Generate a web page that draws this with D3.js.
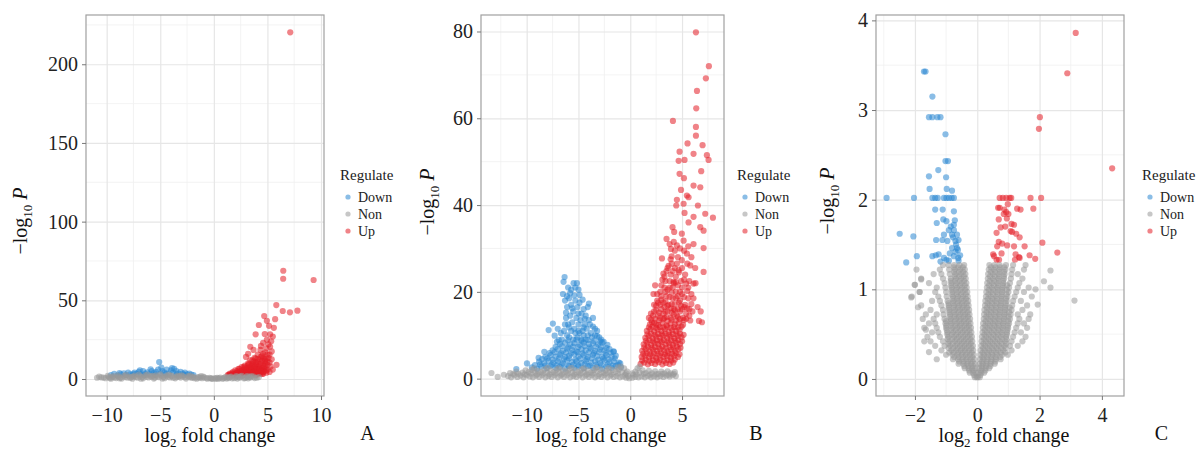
<!DOCTYPE html>
<html><head><meta charset="utf-8">
<script src="https://cdn.jsdelivr.net/npm/d3@7"></script>
<style>body{margin:0;background:#fff}svg{display:block}svg text{font-family:"Liberation Serif","Times New Roman",serif !important}</style>
</head><body><svg id="c" width="1198" height="450"></svg>
<script>
// ---------- Panel A ----------
const xTicksA=[-10,-5,0,5,10], xMinorA=[-7.5,-2.5,2.5,7.5];
const yTicksA=[0,50,100,150,200], yMinorA=[25,75,125,175,225];
const downA=[[-9.6,2.5],[-9.3,3.2],[-9.0,2.2],[-8.7,2.9],[-8.4,3.6],[-8.2,2.5],[-8.0,4.1],[-7.8,3.0],[-7.6,2.4],[-7.4,4.0],[-7.2,3.2],[-7.0,4.6],[-6.8,3.0],[-6.6,5.0],[-6.4,3.5],[-6.2,4.2],[-6.0,3.0],[-5.8,5.1],[-5.6,3.8],[-5.4,4.6],[-5.2,6.0],[-5.1,10.8],[-5.0,3.5],[-4.8,5.0],[-4.6,4.0],[-4.4,6.0],[-4.2,3.5],[-4.0,5.5],[-3.8,4.0],[-3.7,6.5],[-3.5,5.0],[-3.3,3.5],[-3.1,4.5],[-2.9,3.5],[-2.7,4.0],[-2.5,3.0],[-2.3,3.5],[-2.1,2.8],[-1.9,2.5],[-6.5,2.5],[-5.5,2.8],[-4.5,3.0],[-7.5,3.3],[-8.8,3.8],[-3.9,7.0],[-6.9,5.5],[-5.9,6.2],[-4.9,7.2],[-3.5,3.0],[-2.8,2.6]];
const nonA=[[-10.9,0.8],[-10.1,0.5],[-9.8,1.2],[-9.6,0.2],[-9.4,1.8],[-9.1,0.6],[-8.9,1.5],[-8.6,0.3],[-8.4,2.0],[-8.1,0.9],[-7.9,1.6],[-7.6,0.2],[-7.4,2.2],[-7.1,0.8],[-6.9,1.7],[-6.6,0.4],[-6.4,2.3],[-6.1,1.0],[-5.9,1.9],[-5.6,0.3],[-5.4,2.4],[-5.1,1.1],[-4.9,2.0],[-4.6,0.5],[-4.4,2.2],[-4.1,1.0],[-3.9,1.8],[-3.6,0.4],[-3.4,2.1],[-3.1,0.9],[-2.9,1.7],[-2.6,0.3],[-2.4,1.8],[-2.1,0.8],[-1.9,1.4],[-1.6,0.2],[-1.4,1.2],[-1.1,0.5],[-0.9,1.0],[-0.6,0.2],[-0.4,0.7],[-0.1,0.1],[0.1,0.5],[0.4,0.2],[0.6,0.9],[0.9,0.4],[1.1,1.3],[1.4,0.6],[1.6,1.6],[1.9,0.5],[2.1,1.8],[2.4,0.8],[2.6,2.0],[2.9,0.6],[3.1,1.8],[3.4,0.9],[3.7,1.5],[4.0,0.8],[-10.5,1.0],[-9.3,0.9],[-8.3,1.2],[-7.3,1.2],[-6.3,1.4],[-5.3,1.6],[-4.3,1.5],[-3.3,1.4],[-2.3,1.2],[-1.3,0.8],[-0.3,0.4],[0.3,0.8],[1.3,0.9],[2.3,1.3],[3.3,1.3],
[-10.7,1.5],[-10.3,0.9],[-9.9,2.0],[-9.5,1.2],[-9.0,2.4],[-8.7,0.9],[-8.2,2.6],[-7.8,0.7],[-7.5,1.6],[-7.0,2.8],[-6.7,1.2],[-6.2,2.8],[-5.8,1.3],[-5.5,0.9],[-5.0,2.9],[-4.7,1.4],[-4.2,2.8],[-3.8,0.8],[-3.5,1.2],[-3.0,2.4],[-2.7,1.1],[-2.2,2.2],[-1.8,0.5],[-1.5,1.0],[-1.0,1.6],[-0.7,0.6],[-0.2,0.3],[0.2,0.1],[0.5,0.4],[0.8,0.2],[1.0,0.8],[1.2,0.3],[1.5,1.2],[1.7,0.4],[2.0,1.0],[2.2,0.3],[2.5,1.5],[2.8,0.4],[3.0,1.0],[3.2,0.4],[3.5,1.8],[3.8,0.6],[4.2,1.2],[-9.7,0.6],[-8.8,0.4],[-7.7,1.4],[-6.8,0.2],[-5.7,2.0],[-4.8,0.3],[-4.0,2.2],[-3.2,1.9],[-2.0,1.0],[-1.2,1.8]];
const upA=[[7.13,220.3],[6.48,68.8],[6.47,63.7],[9.31,62.9],[5.83,47],[6.43,43.2],[7.1,42.4],[7.8,43.4],[4.7,40],[4.95,37],[5.72,38],[4.2,34.3],[5.15,33.8],[5.6,32.5],[3.9,28.4],[4.75,28.6],[5.25,28.4],[5.5,27],[4.95,25],[4.6,23],[3.4,20.5],[5.25,20.5],[3.7,18.5],[4.35,18.5],[5.4,17.5],[4.75,12.5],[5.4,12.5],[5.85,9],[5.1,22],[4.9,19.5],[5.35,24],[4.4,21],[3.2,16],[4.1,15.5],[4.5,14.5],[5.0,15.5],[3.8,13.5],[5.2,10.5],[3.0,14],
[1.3,2.5],[1.5,3.5],[1.6,2.2],[1.8,4.5],[1.9,3],[2.0,5.5],[2.1,2.4],[2.2,4],[2.3,6.5],[2.4,3.2],[2.5,5],[2.6,7.5],[2.6,2.5],[2.7,4.2],[2.8,6],[2.9,3.4],[2.9,8.5],[3.0,5.2],[3.0,2.6],[3.1,7],[3.2,4],[3.2,10],[3.3,5.8],[3.3,3],[3.4,8],[3.4,12],[3.5,4.5],[3.5,6.8],[3.6,2.8],[3.6,9.5],[3.7,5.5],[3.7,11],[3.8,3.8],[3.8,7.5],[3.9,6],[3.9,13],[4.0,4.5],[4.0,9],[4.1,3],[4.1,11],[4.2,6.5],[4.2,8],[4.3,4],[4.3,12.5],[4.4,5.5],[4.4,10],[4.5,7],[4.5,3.2],[4.6,9],[4.6,16],[4.7,5],[4.8,7.5],[4.8,11.5],[4.9,4],[5.0,9],[5.0,6],[5.1,13.5],[5.2,4.5],[5.3,8],[5.5,6],[2.0,3.6],[2.3,2.8],[2.5,3.8],[2.7,2.2],[2.8,4.8],[3.1,3.4],[3.3,4.5],[3.5,3.4],[3.6,5],[3.8,5],[3.9,2.6],[4.0,6.8],[4.2,5],[4.4,3.6],[4.6,4.5],[4.7,6.5],[3.0,6.2],[2.9,7.2],[3.4,6.5],[3.7,8.5],[3.2,8.8],[4.1,7.5],[4.3,9.5],[4.8,9.8],[1.7,3.8],[2.2,5],[1.4,2.8],[2.4,6.4],
[1.5,2.6],[1.7,3.0],[1.9,2.3],[2.1,3.4],[2.2,2.2],[2.4,4.6],[2.5,2.4],[2.6,3.4],[2.7,5.6],[2.8,2.8],[2.9,4.2],[3.0,3.6],[3.1,5.5],[3.2,2.4],[3.3,6.8],[3.4,4.2],[3.5,5.5],[3.6,3.8],[3.7,4.4],[3.8,6.4],[3.9,4.2],[4.0,3.4],[4.1,5.2],[4.2,3.8],[4.3,6.2],[4.4,4.6],[4.5,5.6],[4.6,3.4],[4.7,8.2],[4.9,5.4],[3.5,8.2],[3.9,9.8],[4.1,12.8],[4.5,11.4],[4.9,13],[3.3,9.6],[2.8,7.8],[3.6,11.8],[4.4,14.2],[4.8,17],[5.2,15.5],[5.0,11],[3.9,10.8],[4.6,13.3]];

// ---------- Panel B ----------
const xTicksB=[-10,-5,0,5], xMinorB=[-12.5,-7.5,-2.5,2.5,7.5];
const yTicksB=[0,20,40,60,80], yMinorB=[10,30,50,70];
const downB=[[-11,2.2],[-9.97,3.5],[-8.85,4.8],[-8.3,6.2],[-7.08,8.5],[-7.88,11.2],[-7.47,12.7],[-6.34,23.4],[-6.44,22.3],[-5.47,22],[-5.15,22],[-6.5,19.5],[-5.8,19.7],[-4.9,19.3],[-3.99,17.3],[-2.57,8.5],[-1.6,6.2],[-0.97,3.5],
[-6.3,18],[-6.1,16.5],[-5.9,18.5],[-5.7,17],[-5.5,15.5],[-5.3,18],[-5.1,16.5],[-4.9,17.5],[-4.7,15],[-4.5,16],[-4.3,14.5],[-4.1,16.5],[-6.2,14],[-6.0,12.5],[-5.8,14.5],[-5.6,13],[-5.4,11.5],[-5.2,14],[-5.0,12.5],[-4.8,13.5],[-4.6,11],[-4.4,12.5],[-4.2,11.5],[-4.0,13.5],[-3.8,10.5],[-3.6,12],[-3.4,10],[-3.2,11],[-6.4,11],[-6.1,10],[-5.9,9.5],[-5.7,11],[-5.5,9],[-5.3,10.5],[-5.1,9.5],[-4.9,10.5],[-4.7,9],[-4.5,10],[-4.3,9],[-4.1,10],[-3.0,9.5],[-2.8,9],[-3.6,14],[-5.7,20.5],[-5.3,21],[-6.0,21],
[-6.2,15.2],[-5.6,16.2],[-5.0,15],[-4.4,13.8],[-3.9,12.5],[-3.4,11.5],[-5.4,19.2],[-6.1,19],[-4.6,18.2],[-5.0,20.5],[-6.3,12.5],[-5.9,11.8],[-5.0,11],[-4.5,11.8],[-3.7,9.5],[-3.2,9.8],[-6.7,10.5],[-6.9,8.9],[-7.3,9.9],[-7.0,11.5],
[-9.5,2.6],[-9.0,2.3],[-8.6,2.8],[-8.1,2.4],[-7.7,2.9],[-7.2,2.5],[-6.8,2.7],[-6.3,2.3],[-5.9,2.9],[-5.4,2.5],[-5.0,2.8],[-4.5,2.4],[-4.1,2.9],[-3.6,2.5],[-3.2,2.7],[-2.7,2.3],[-2.3,2.8],[-1.8,2.5],[-1.4,2.9],[-0.9,2.6],
[-9.2,3.1],[-8.7,3.3],[-8.2,3.0],[-7.6,3.2],[-7.1,3.1],[-6.6,3.3],[-6.0,3.0],[-5.5,3.2],[-5.0,3.1],[-4.4,3.3],[-3.9,3.0],[-3.3,3.2],[-2.8,3.1],[-2.2,3.3],[-1.7,3.0],[-1.2,3.2],
[-8.8,3.9],[-8.3,3.6],[-7.9,4.1],[-7.4,3.7],[-7.0,4.0],[-6.5,3.6],[-6.1,4.2],[-5.6,3.8],[-5.2,4.0],[-4.7,3.6],[-4.3,4.1],[-3.8,3.7],[-3.4,4.0],[-2.9,3.6],[-2.5,4.2],[-2.0,3.8],[-1.6,4.0],[-1.1,3.7],
[-8.5,4.5],[-8.0,4.7],[-7.5,4.4],[-6.9,4.6],[-6.4,4.5],[-5.9,4.7],[-5.3,4.4],[-4.8,4.6],[-4.2,4.5],[-3.7,4.7],[-3.1,4.4],[-2.6,4.6],[-2.1,4.5],[-1.5,4.7],
[-8.2,5.0],[-7.7,5.4],[-7.2,5.1],[-6.8,5.5],[-6.3,5.0],[-5.9,5.3],[-5.4,5.6],[-5.0,5.1],[-4.5,5.4],[-4.1,5.0],[-3.6,5.5],[-3.2,5.2],[-2.7,5.0],[-2.3,5.4],[-1.8,5.1],[-1.4,5.3],
[-7.8,5.9],[-7.3,6.1],[-6.7,5.8],[-6.2,6.0],[-5.7,5.9],[-5.1,6.1],[-4.6,5.8],[-4.0,6.0],[-3.5,5.9],[-3.0,6.1],[-2.4,5.8],[-1.9,6.0],
[-7.5,6.5],[-7.0,6.8],[-6.5,6.4],[-6.1,6.9],[-5.6,6.6],[-5.2,6.3],[-4.7,6.8],[-4.3,6.5],[-3.8,6.9],[-3.4,6.4],[-2.9,6.7],[-2.5,6.5],[-2.0,6.8],[-1.6,6.3],
[-7.2,7.3],[-6.6,7.5],[-6.0,7.2],[-5.5,7.4],[-5.0,7.3],[-4.4,7.5],[-3.9,7.2],[-3.3,7.4],[-2.8,7.3],[-2.3,7.1],
[-6.8,8.0],[-6.3,8.3],[-5.8,7.9],[-5.4,8.2],[-4.9,7.8],[-4.5,8.3],[-4.0,8.0],[-3.6,8.2],[-3.1,7.9],[-2.7,8.3],[-2.2,7.8],
[-6.6,9.0],[-6.0,8.8],[-5.2,9.0],[-4.7,8.7],[-4.1,8.9],[-3.5,8.7],[-2.9,8.6]];
const nonB=[[-13.4,1.3],[-12.8,0.4],[-12.2,0.9],[-0.9,2.8],[0.9,2.8],[-0.3,1.6],[0.2,1.2],
[-11.8,0.6],[-11.5,0.3],[-11.2,0.8],[-10.9,0.4],[-10.6,0.7],[-10.3,0.3],[-10.0,0.8],[-9.7,0.5],[-9.4,0.3],[-9.1,0.7],[-8.8,0.4],[-8.5,0.8],[-8.2,0.3],[-7.9,0.6],[-7.6,0.4],[-7.3,0.8],[-7.0,0.3],[-6.7,0.7],[-6.4,0.4],[-6.1,0.8],[-5.8,0.3],[-5.5,0.6],[-5.2,0.4],[-4.9,0.8],[-4.6,0.3],[-4.3,0.7],[-4.0,0.4],[-3.7,0.8],[-3.4,0.3],[-3.1,0.6],[-2.8,0.4],[-2.5,0.8],[-2.2,0.3],[-1.9,0.7],[-1.6,0.4],[-1.3,0.6],[-1.0,0.3],[-0.7,0.5],[-0.4,0.2],[-0.1,0.1],[0.2,0.2],[0.5,0.4],[0.8,0.3],[1.1,0.5],[1.4,0.3],[1.7,0.6],[2.0,0.3],[2.3,0.5],[2.6,0.3],[2.9,0.6],[3.2,0.4],[3.5,0.7],[3.8,0.5],[4.1,0.8],[4.4,0.6],
[-11.6,1.3],[-11.0,1.6],[-10.4,1.4],[-10.1,1.9],[-9.8,1.5],[-9.5,2.0],[-9.2,1.4],[-8.9,1.8],[-8.6,1.5],[-8.3,2.1],[-8.0,1.4],[-7.7,1.9],[-7.4,1.5],[-7.1,2.1],[-6.8,1.4],[-6.5,1.9],[-6.2,1.6],[-5.9,2.1],[-5.6,1.4],[-5.3,1.9],[-5.0,1.5],[-4.7,2.1],[-4.4,1.5],[-4.1,1.9],[-3.8,1.4],[-3.5,2.0],[-3.2,1.6],[-2.9,2.1],[-2.6,1.4],[-2.3,1.9],[-2.0,1.5],[-1.7,2.0],[-1.4,1.6],[-1.1,2.1],[-0.8,1.5],[-0.6,2.4],[-0.4,1.2],[-0.2,0.6],[0.3,0.9],[0.5,1.6],[0.7,2.4],[0.9,1.4],[1.2,1.9],[1.5,1.3],[1.8,1.8],[2.1,1.2],[2.4,1.7],[2.7,1.1],[3.0,1.6],[3.3,1.2],[3.6,1.7],[3.9,1.2],[4.3,1.5],
[-9.3,2.4],[-8.0,2.5],[-6.9,2.4],[-5.7,2.5],[-4.5,2.4],[-3.3,2.5],[-2.1,2.4],[-1.2,2.6],
[-11.3,1.1],[-10.8,1.1],[-10.2,1.0],[-9.6,1.2],[-9.0,1.0],[-8.4,1.2],[-7.8,1.0],[-7.2,1.2],[-6.6,1.0],[-6.0,1.2],[-5.4,1.0],[-4.8,1.2],[-4.2,1.0],[-3.6,1.2],[-3.0,1.0],[-2.4,1.2],[-1.8,1.0],[-1.2,1.2],[-0.5,0.9],[0.6,1.0],[1.3,1.1],[1.9,0.9],[2.5,1.0],[3.1,1.1],[3.7,0.9],[4.2,1.1]];
const upB=[[6.34,79.8],[7.59,72.0],[7.30,69.2],[6.44,66.3],[6.37,62.3],[4.12,59.4],[6.34,58.0],[6.34,56.0],[5.53,54.2],[6.98,53.8],[4.76,52.3],[6.11,51.8],[7.40,51.5],[4.67,50.2],[5.24,50.4],[7.56,50.4],[6.85,47.8],[5.18,46.2],[6.11,44.5],[6.76,44.1],[4.9,43.5],[5.47,42.2],[4.5,41.2],[5.15,40.3],[6.53,39.9],[7.24,38],[7.98,37.1],[6.11,37.3],[5.24,38.2],[4.08,34.9],[5.63,36],[6.76,34.9],[7.08,34.1],[3.5,32.2],[5.15,31.8],[6.11,31],[7.08,30.1],[3.06,27.7],[4.0,26.5],[4.98,27.3],[5.79,26.1],[4.67,25],[3.2,24.2],[4.18,22.3],[5.4,21.9],[6.11,21.9],[7.08,24.6],[6.63,13.3],[6.92,13],[5.79,13.4],[2.4,21.5],[2.24,19.5],[6.27,25.5],[5.47,28.8],[4.5,30.7],[3.93,29.9],[4.98,33.4],[4.24,33.8],[5.63,41.8],[4.44,39.9],[4.76,47.2],
[2.6,18],[2.9,20],[3.2,17.5],[3.5,19],[3.8,21],[4.1,18.5],[4.4,20],[4.7,17.5],[5,19.5],[5.3,17],[5.6,18.5],[2.3,15.5],[2.7,14.5],[3,16],[3.3,14],[3.6,15.5],[3.9,14],[4.2,16],[4.5,14.5],[4.8,15.5],[5.1,14],[5.4,15],[5.7,16],[6,15.5],[3.4,22.5],[3.9,24],[4.4,23.5],[4.9,22.5],[5.3,24],[3.7,26],[4.3,25.5],[2.1,13],[2.5,12.5],[3.7,17],[4.6,21.5],[5.9,19.5],[6.3,22],[6.5,16.5],[6.8,15.5],
[2.5,16.8],[2.9,17],[3.3,16.5],[3.9,16.2],[4.3,17.2],[4.9,16.8],[5.5,16.2],[2.8,15.2],[3.4,15.5],[4.0,15.2],[4.6,16],[5.2,16.5],[3.0,19],[3.3,21],[3.6,20.5],[4.0,19.8],[4.2,22],[4.6,19],[5.0,21],[5.5,20.2],[3.1,22.8],[4.7,24.5],[5.7,22.5],[3.5,24.8],[4.0,28.2],[4.6,28],[3.8,31],[5.2,29.5],[5.9,28],
[2.2,14.5],[2.5,15.8],[2.7,17.5],[3.0,18.2],[3.2,15],[3.4,17.8],[3.6,16.8],[3.8,18.8],[4.0,17.2],[4.2,14.8],[4.4,18.6],[4.6,14.2],[4.8,18],[5.0,16],[5.2,18.8],[5.4,13.8],[2.6,19.5],[3.0,21.5],[3.4,20],[3.8,22.5],[4.1,21],[4.4,22.2],[4.8,20],[5.2,22.8],[5.6,21],[3.3,23.5],[3.6,25.5],[4.1,24.8],[4.5,26.5],[5.0,25.5],[5.5,26.5],[3.9,27.5],[4.3,29.5],[4.8,30],[5.6,30.5],[4.2,31.5],[2.3,17],[2.0,15],[1.8,14],[5.7,14.5],[5.9,17.2],[6.1,18.5],[3.5,14.2],[4.3,15.8],[2.9,14],
[1.0,3.4],[1.35,3.7],[1.7,3.3],[2.05,3.6],[2.4,3.4],[2.75,3.8],[3.1,3.3],[3.45,3.6],[3.8,3.4],[4.15,3.7],
[1.15,4.2],[1.5,4.4],[1.85,4.1],[2.2,4.3],[2.55,4.2],[2.9,4.4],[3.25,4.1],[3.6,4.3],[3.95,4.2],[4.3,4.4],
[1.1,5.0],[1.45,5.3],[1.8,4.9],[2.15,5.2],[2.5,4.8],[2.85,5.3],[3.2,5.0],[3.55,5.2],[3.9,4.9],[4.25,5.3],[4.6,5.0],
[1.25,5.7],[1.6,5.9],[1.95,5.6],[2.3,5.8],[2.65,5.7],[3.0,5.9],[3.35,5.6],[3.7,5.8],[4.05,5.7],[4.4,5.9],[4.75,5.6],
[1.15,6.4],[1.5,6.8],[1.85,6.3],[2.2,6.7],[2.55,6.4],[2.9,6.8],[3.25,6.5],[3.6,6.3],[3.95,6.7],[4.3,6.4],[4.65,6.8],
[1.35,7.2],[1.7,7.4],[2.05,7.1],[2.4,7.3],[2.75,7.2],[3.1,7.4],[3.45,7.1],[3.8,7.3],[4.15,7.2],[4.5,7.4],[4.85,7.1],
[1.3,7.9],[1.65,8.3],[2.0,7.8],[2.35,8.2],[2.7,8.0],[3.05,8.4],[3.4,7.9],[3.75,8.2],[4.1,7.8],[4.45,8.3],[4.8,8.0],
[1.5,8.7],[1.85,8.9],[2.2,8.6],[2.55,8.8],[2.9,8.7],[3.25,8.9],[3.6,8.6],[3.95,8.8],[4.3,8.7],[4.65,8.9],[5.0,8.6],
[1.45,9.4],[1.8,9.8],[2.15,9.3],[2.5,9.7],[2.85,9.5],[3.2,9.9],[3.55,9.4],[3.9,9.7],[4.25,9.3],[4.6,9.8],[4.95,9.5],
[1.65,10.2],[2.0,10.4],[2.35,10.1],[2.7,10.3],[3.05,10.2],[3.4,10.4],[3.75,10.1],[4.1,10.3],[4.45,10.2],[4.8,10.4],[5.15,10.1],
[1.6,11.0],[1.95,11.4],[2.3,10.9],[2.65,11.3],[3.0,11.0],[3.35,11.4],[3.7,10.8],[4.05,11.2],[4.4,11.0],[4.75,11.3],
[1.8,11.8],[2.15,12.0],[2.5,11.7],[2.85,11.9],[3.2,11.8],[3.55,12.0],[3.9,11.7],[4.25,11.9],[4.6,11.8],[4.95,12.0],
[1.9,12.5],[2.3,12.9],[2.7,12.4],[3.1,12.8],[3.5,12.3],[3.9,12.7],[4.3,12.5],[4.7,12.9],[5.1,12.4],
[2.0,13.6],[2.4,13.8],[2.8,13.4],[3.2,13.7],[3.6,13.3],[4.0,13.6],[4.4,13.4],[4.8,13.7],[5.2,13.5]];

// ---------- Panel C ----------
const xTicksC=[-2,0,2,4], xMinorC=[-3,-1,1,3];
const yTicksC=[0,1,2,3,4], yMinorC=[0.5,1.5,2.5,3.5];
const downC=[[-1.71,3.43],[-1.66,3.43],[-1.44,3.15],[-1.55,2.92],[-1.44,2.92],[-1.28,2.92],[-1.18,2.92],[-1.02,2.73],[-1.02,2.43],[-0.94,2.43],[-1.25,2.33],[-1.55,2.26],[-1.0,2.25],[-1.53,2.12],[-0.98,2.12],[-0.81,2.1],
[-2.91,2.02],[-2.03,2.02],[-1.44,2.02],[-1.35,2.02],[-1.27,2.02],[-1.07,2.02],[-0.99,2.02],[-0.91,2.02],[-0.82,2.02],[-0.75,2.02],
[-1.35,1.89],[-1.11,1.89],[-0.75,1.87],[-1.09,1.78],[-0.99,1.76],[-0.72,1.77],[-0.75,1.72],[-1.3,1.74],[-0.91,1.66],[-0.75,1.66],[-1.07,1.61],[-0.81,1.61],[-0.65,1.61],[-2.49,1.62],[-2.05,1.59],[-1.32,1.55],[-1.12,1.55],[-0.96,1.54],[-0.7,1.54],[-0.6,1.55],[-0.81,1.46],[-0.65,1.46],[-1.94,1.37],[-1.44,1.37],[-1.33,1.38],[-1.24,1.39],[-1.07,1.35],[-0.99,1.33],[-0.75,1.37],[-0.61,1.35],[-2.28,1.30],[-1.18,1.31],[-0.91,1.32],[-0.6,1.32],[-0.7,1.42],[-0.85,1.7],[-0.68,1.5],[-0.88,1.4],[-0.78,1.58],[-0.62,1.44],[-0.55,1.38]];
const upC=[[3.16,3.86],[2.89,3.41],[2.01,2.92],[1.98,2.79],[4.33,2.35],
[0.72,2.02],[0.82,2.02],[0.93,2.02],[1.04,2.02],[1.09,2.02],[1.71,2.02],[2.05,2.02],
[0.67,1.91],[0.72,1.91],[0.87,1.89],[0.93,1.86],[0.85,1.84],[1.28,1.90],[1.39,1.89],[1.80,1.90],
[0.69,1.78],[0.95,1.79],[1.10,1.73],[1.18,1.72],[0.75,1.69],[1.07,1.65],[1.12,1.64],[1.25,1.62],[1.36,1.58],[0.62,1.63],
[0.69,1.53],[0.80,1.51],[0.64,1.48],[0.96,1.49],[1.18,1.48],[1.52,1.48],[2.09,1.52],[2.57,1.41],
[0.51,1.39],[0.54,1.37],[0.78,1.40],[1.23,1.39],[1.34,1.36],[1.68,1.38],[1.86,1.34],[0.62,1.33],[0.70,1.33],[1.21,1.33],[1.36,1.35],[0.9,1.7],[0.98,1.95],[1.0,1.84]];
const nonC=[
[-0.02,0.02],[-0.08,0.02],[-0.05,0.07],[-0.14,0.07],[-0.24,0.07],[-0.07,0.12],[-0.17,0.12],[-0.28,0.12],[-0.4,0.12],
[-0.08,0.17],[-0.2,0.17],[-0.32,0.17],[-0.45,0.17],[-0.6,0.17],[-0.1,0.22],[-0.22,0.22],[-0.35,0.22],[-0.48,0.22],[-0.62,0.22],[-0.78,0.22],
[-0.11,0.27],[-0.24,0.27],[-0.37,0.27],[-0.5,0.27],[-0.64,0.27],[-0.8,0.27],[-1.0,0.27],
[-0.13,0.32],[-0.26,0.32],[-0.4,0.32],[-0.53,0.32],[-0.67,0.32],[-0.83,0.32],[-1.15,0.32],
[-0.14,0.37],[-0.27,0.37],[-0.41,0.37],[-0.55,0.37],[-0.7,0.37],[-0.87,0.37],[-1.05,0.37],[-1.35,0.37],
[-0.16,0.42],[-0.29,0.42],[-0.43,0.42],[-0.57,0.42],[-0.72,0.42],[-0.9,0.42],[-1.1,0.42],[-1.5,0.42],
[-0.17,0.47],[-0.31,0.47],[-0.45,0.47],[-0.6,0.47],[-0.75,0.47],[-0.93,0.47],[-1.2,0.47],[-1.6,0.47],
[-0.19,0.52],[-0.33,0.52],[-0.47,0.52],[-0.62,0.52],[-0.78,0.52],[-0.96,0.52],[-1.25,0.52],[-1.45,0.52],
[-0.2,0.57],[-0.34,0.57],[-0.49,0.57],[-0.64,0.57],[-0.8,0.57],[-1.0,0.57],[-1.3,0.57],[-1.7,0.57],
[-0.22,0.62],[-0.36,0.62],[-0.51,0.62],[-0.66,0.62],[-0.83,0.62],[-1.02,0.62],[-1.35,0.62],[-1.55,0.62],
[-0.23,0.67],[-0.38,0.67],[-0.53,0.67],[-0.68,0.67],[-0.85,0.67],[-1.05,0.67],[-1.4,0.67],[-1.75,0.67],
[-0.25,0.72],[-0.39,0.72],[-0.54,0.72],[-0.7,0.72],[-0.87,0.72],[-1.08,0.72],[-1.3,0.72],[-1.65,0.72],
[-0.26,0.77],[-0.41,0.77],[-0.56,0.77],[-0.72,0.77],[-0.9,0.77],[-1.1,0.77],[-1.5,0.77],
[-0.28,0.82],[-0.43,0.82],[-0.58,0.82],[-0.74,0.82],[-0.92,0.82],[-1.15,0.82],[-1.8,0.82],
[-0.29,0.87],[-0.44,0.87],[-0.6,0.87],[-0.76,0.87],[-0.95,0.87],[-1.2,0.87],[-1.45,0.87],
[-0.31,0.92],[-0.46,0.92],[-0.62,0.92],[-0.78,0.92],[-0.98,0.92],[-1.25,0.92],[-2.1,0.92],
[-0.32,0.97],[-0.47,0.97],[-0.63,0.97],[-0.8,0.97],[-1.0,0.97],[-1.35,0.97],[-1.85,0.97],
[-0.34,1.02],[-0.49,1.02],[-0.65,1.02],[-0.82,1.02],[-1.02,1.02],[-1.3,1.02],[-2.0,1.05],
[-0.35,1.07],[-0.5,1.07],[-0.66,1.07],[-0.83,1.07],[-1.05,1.07],[-1.55,1.07],
[-0.37,1.12],[-0.52,1.12],[-0.68,1.12],[-0.85,1.12],[-1.1,1.12],[-1.8,1.12],
[-0.38,1.17],[-0.53,1.17],[-0.7,1.17],[-0.88,1.17],[-1.15,1.17],[-1.4,1.17],
[-0.4,1.22],[-0.55,1.22],[-0.72,1.22],[-0.9,1.22],[-1.2,1.22],[-1.95,1.22],
[-0.42,1.27],[-0.57,1.27],[-0.74,1.27],[-0.92,1.27],[-1.1,1.27],
[-0.1,0.045],[-0.12,0.095],[-0.26,0.095],[-0.13,0.145],[-0.28,0.145],[-0.42,0.145],[-0.15,0.195],[-0.29,0.195],[-0.44,0.195],[-0.58,0.195],
[-0.16,0.245],[-0.31,0.245],[-0.45,0.245],[-0.6,0.245],[-0.74,0.245],[-0.18,0.295],[-0.32,0.295],[-0.47,0.295],[-0.61,0.295],[-0.76,0.295],[-0.9,0.295],
[-0.19,0.345],[-0.34,0.345],[-0.48,0.345],[-0.63,0.345],[-0.77,0.345],[-0.92,0.345],[-0.21,0.395],[-0.35,0.395],[-0.5,0.395],[-0.64,0.395],[-0.79,0.395],[-0.93,0.395],
[-0.22,0.445],[-0.37,0.445],[-0.51,0.445],[-0.66,0.445],[-0.8,0.445],[-0.95,0.445],[-0.24,0.495],[-0.38,0.495],[-0.53,0.495],[-0.67,0.495],[-0.82,0.495],[-0.96,0.495],
[-0.25,0.545],[-0.4,0.545],[-0.54,0.545],[-0.69,0.545],[-0.83,0.545],[-0.98,0.545],[-0.27,0.595],[-0.41,0.595],[-0.56,0.595],[-0.7,0.595],[-0.85,0.595],[-0.99,0.595],
[-0.28,0.645],[-0.43,0.645],[-0.57,0.645],[-0.72,0.645],[-0.86,0.645],[-1.0,0.645],[-0.3,0.695],[-0.44,0.695],[-0.59,0.695],[-0.73,0.695],[-0.88,0.695],
[-0.31,0.745],[-0.46,0.745],[-0.6,0.745],[-0.75,0.745],[-0.89,0.745],[-0.33,0.795],[-0.47,0.795],[-0.62,0.795],[-0.76,0.795],[-0.91,0.795],
[-0.34,0.845],[-0.49,0.845],[-0.63,0.845],[-0.78,0.845],[-0.92,0.845],[-0.36,0.895],[-0.5,0.895],[-0.65,0.895],[-0.79,0.895],
[-0.37,0.945],[-0.52,0.945],[-0.66,0.945],[-0.81,0.945],[-0.39,0.995],[-0.53,0.995],[-0.68,0.995],[-0.82,0.995],
[-0.4,1.045],[-0.55,1.045],[-0.69,1.045],[-0.84,1.045],[-0.42,1.095],[-0.56,1.095],[-0.71,1.095],[-0.85,1.095],
[-0.43,1.145],[-0.58,1.145],[-0.72,1.145],[-0.45,1.195],[-0.59,1.195],[-0.74,1.195],[-0.46,1.245],[-0.61,1.245],[-0.75,1.245],
[-2.12,0.91],[-1.85,0.97],[-2.01,1.05],[-1.8,1.11],[-1.65,0.55],[-1.7,0.42],[-1.55,0.3],[-1.3,0.22],[-1.9,0.8],
[0.02,0.02],[0.08,0.02],[0.04,0.07],[0.13,0.07],[0.22,0.07],[0.06,0.12],[0.16,0.12],[0.27,0.12],[0.38,0.12],
[0.07,0.17],[0.18,0.17],[0.3,0.17],[0.43,0.17],[0.56,0.17],[0.09,0.22],[0.2,0.22],[0.33,0.22],[0.46,0.22],[0.6,0.22],[0.75,0.22],
[0.1,0.27],[0.22,0.27],[0.35,0.27],[0.49,0.27],[0.63,0.27],[0.8,0.27],[0.98,0.27],
[0.11,0.32],[0.24,0.32],[0.38,0.32],[0.52,0.32],[0.67,0.32],[0.84,0.32],[1.1,0.32],
[0.13,0.37],[0.26,0.37],[0.4,0.37],[0.55,0.37],[0.7,0.37],[0.87,0.37],[1.05,0.37],[1.3,0.37],
[0.14,0.42],[0.28,0.42],[0.42,0.42],[0.57,0.42],[0.73,0.42],[0.9,0.42],[1.1,0.42],[1.45,0.42],
[0.15,0.47],[0.29,0.47],[0.44,0.47],[0.6,0.47],[0.76,0.47],[0.93,0.47],[1.15,0.47],[1.55,0.47],
[0.17,0.52],[0.31,0.52],[0.46,0.52],[0.62,0.52],[0.78,0.52],[0.96,0.52],[1.2,0.52],[1.4,0.52],
[0.18,0.57],[0.33,0.57],[0.48,0.57],[0.64,0.57],[0.81,0.57],[0.99,0.57],[1.25,0.57],[1.6,0.57],
[0.19,0.62],[0.34,0.62],[0.5,0.62],[0.66,0.62],[0.83,0.62],[1.02,0.62],[1.3,0.62],[1.5,0.62],
[0.21,0.67],[0.36,0.67],[0.52,0.67],[0.68,0.67],[0.86,0.67],[1.05,0.67],[1.35,0.67],[1.65,0.67],
[0.22,0.72],[0.37,0.72],[0.53,0.72],[0.7,0.72],[0.88,0.72],[1.07,0.72],[1.3,0.72],[1.7,0.72],
[0.23,0.77],[0.39,0.77],[0.55,0.77],[0.72,0.77],[0.9,0.77],[1.1,0.77],[1.45,0.77],
[0.25,0.82],[0.4,0.82],[0.57,0.82],[0.74,0.82],[0.92,0.82],[1.12,0.82],[1.6,0.82],
[0.26,0.87],[0.42,0.87],[0.58,0.87],[0.76,0.87],[0.95,0.87],[1.15,0.87],[1.4,0.87],
[0.28,0.92],[0.43,0.92],[0.6,0.92],[0.78,0.92],[0.97,0.92],[1.2,0.92],[1.75,0.92],
[0.29,0.97],[0.45,0.97],[0.62,0.97],[0.8,0.97],[1.0,0.97],[1.25,0.97],[1.5,0.97],
[0.31,1.02],[0.47,1.02],[0.64,1.02],[0.82,1.02],[1.02,1.02],[1.3,1.02],[1.65,1.02],
[0.32,1.07],[0.48,1.07],[0.65,1.07],[0.84,1.07],[1.05,1.07],[1.35,1.07],
[0.34,1.12],[0.5,1.12],[0.67,1.12],[0.86,1.12],[1.08,1.12],[1.45,1.12],
[0.35,1.17],[0.51,1.17],[0.69,1.17],[0.88,1.17],[1.1,1.17],[1.3,1.17],
[0.37,1.22],[0.53,1.22],[0.7,1.22],[0.9,1.22],[1.12,1.22],[1.5,1.22],
[0.39,1.27],[0.55,1.27],[0.72,1.27],[0.92,1.27],[1.15,1.27],
[0.1,0.045],[0.12,0.095],[0.26,0.095],[0.13,0.145],[0.28,0.145],[0.42,0.145],[0.15,0.195],[0.29,0.195],[0.44,0.195],[0.58,0.195],
[0.16,0.245],[0.3,0.245],[0.45,0.245],[0.59,0.245],[0.74,0.245],[0.17,0.295],[0.32,0.295],[0.46,0.295],[0.61,0.295],[0.75,0.295],[0.9,0.295],
[0.19,0.345],[0.33,0.345],[0.48,0.345],[0.62,0.345],[0.77,0.345],[0.91,0.345],[0.2,0.395],[0.35,0.395],[0.49,0.395],[0.64,0.395],[0.78,0.395],[0.93,0.395],
[0.22,0.445],[0.36,0.445],[0.51,0.445],[0.65,0.445],[0.8,0.445],[0.94,0.445],[0.23,0.495],[0.37,0.495],[0.52,0.495],[0.66,0.495],[0.81,0.495],[0.95,0.495],
[0.24,0.545],[0.39,0.545],[0.53,0.545],[0.68,0.545],[0.82,0.545],[0.97,0.545],[0.26,0.595],[0.4,0.595],[0.55,0.595],[0.69,0.595],[0.84,0.595],[0.98,0.595],
[0.27,0.645],[0.42,0.645],[0.56,0.645],[0.71,0.645],[0.85,0.645],[1.0,0.645],[0.29,0.695],[0.43,0.695],[0.58,0.695],[0.72,0.695],[0.87,0.695],[1.01,0.695],
[0.3,0.745],[0.44,0.745],[0.59,0.745],[0.73,0.745],[0.88,0.745],[1.02,0.745],[0.31,0.795],[0.46,0.795],[0.6,0.795],[0.75,0.795],[0.89,0.795],[1.04,0.795],
[0.33,0.845],[0.47,0.845],[0.62,0.845],[0.76,0.845],[0.91,0.845],[0.34,0.895],[0.49,0.895],[0.63,0.895],[0.78,0.895],[0.92,0.895],
[0.36,0.945],[0.5,0.945],[0.65,0.945],[0.79,0.945],[0.94,0.945],[0.37,0.995],[0.51,0.995],[0.66,0.995],[0.8,0.995],[0.95,0.995],
[0.38,1.045],[0.53,1.045],[0.67,1.045],[0.82,1.045],[0.96,1.045],[0.4,1.095],[0.54,1.095],[0.69,1.095],[0.83,1.095],
[0.41,1.145],[0.56,1.145],[0.7,1.145],[0.85,1.145],[0.43,1.195],[0.57,1.195],[0.72,1.195],[0.86,1.195],[0.44,1.245],[0.58,1.245],[0.73,1.245],[0.87,1.245],
[2.14,1.09],[2.35,1.21],[2.35,1.02],[3.12,0.875],[1.94,0.83],[1.87,1.0],[1.55,1.27]];

const groups=["Down","Non","Up"];
const colors={Down:"#2A86D1",Non:"#999999",Up:"#E41E26"};
const FONT='"Liberation Serif","Times New Roman",serif';

const panels=[
 {x0:86,x1:324,xd:[-11.93,10.28],yd:[-10.8,231.3],xt:xTicksA,xm:xMinorA,yt:yTicksA,ym:yMinorA,data:{Down:downA,Non:nonA,Up:upA},leg:340,yTitle:[27,221],xTitle:210,letter:[367.5,440],name:"A"},
 {x0:481,x1:724,xd:[-14.41,9.05],yd:[-4.0,83.8],xt:xTicksB,xm:xMinorB,yt:yTicksB,ym:yMinorB,data:{Down:downB,Non:nonB,Up:upB},leg:737,yTitle:[434,202],xTitle:601,letter:[756,440],name:"B"},
 {x0:876,x1:1124,xd:[-3.25,4.71],yd:[-0.19,4.06],xt:xTicksC,xm:xMinorC,yt:yTicksC,ym:yMinorC,data:{Down:downC,Non:nonC,Up:upC},leg:1142,yTitle:[834,201],xTitle:1004,letter:[1161.5,440],name:"C"}
];
const Y0=15,Y1=396;
const svg=d3.select("#c").attr("font-family",FONT);
const fmt=d3.format("");

panels.forEach(p=>{
  const x=d3.scaleLinear().domain(p.xd).range([p.x0,p.x1]);
  const y=d3.scaleLinear().domain(p.yd).range([Y1,Y0]);
  const g=svg.append("g");
  g.selectAll(".mx").data(p.xm).join("line").attr("x1",d=>x(d)).attr("x2",d=>x(d)).attr("y1",Y0).attr("y2",Y1).attr("stroke","#f0f0f0").attr("stroke-width",0.8);
  g.selectAll(".my").data(p.ym).join("line").attr("y1",d=>y(d)).attr("y2",d=>y(d)).attr("x1",p.x0).attr("x2",p.x1).attr("stroke","#f0f0f0").attr("stroke-width",0.8);
  const gx=g.append("g").attr("transform",`translate(0,${Y1})`).call(d3.axisBottom(x).tickValues(p.xt).tickSize(-(Y1-Y0)).tickFormat(""));
  gx.select(".domain").remove(); gx.selectAll("line").attr("stroke","#e6e6e6").attr("stroke-width",1.2);
  const gy=g.append("g").attr("transform",`translate(${p.x0},0)`).call(d3.axisLeft(y).tickValues(p.yt).tickSize(-(p.x1-p.x0)).tickFormat(""));
  gy.select(".domain").remove(); gy.selectAll("line").attr("stroke","#e6e6e6").attr("stroke-width",1.2);
  ["Down","Up","Non"].forEach(k=>{
    g.append("g").selectAll("circle").data(p.data[k]).join("circle")
     .attr("cx",d=>x(d[0])).attr("cy",d=>y(d[1])).attr("r",3.1)
     .attr("fill",colors[k]).attr("fill-opacity",0.55);
  });
  g.append("rect").attr("x",p.x0).attr("y",Y0).attr("width",p.x1-p.x0).attr("height",Y1-Y0).attr("fill","none").attr("stroke","#a0a0a0").attr("stroke-width",1.2);
  const ax=g.append("g").attr("transform",`translate(0,${Y1})`).call(d3.axisBottom(x).tickValues(p.xt).tickSize(4).tickPadding(4).tickFormat(fmt));
  ax.attr("font-family",FONT).select(".domain").remove(); ax.selectAll("line").attr("stroke","#777");
  ax.selectAll("text").attr("font-family",FONT).attr("font-size",20).attr("fill","#222").attr("dy","0.9em");
  const ay=g.append("g").attr("transform",`translate(${p.x0},0)`).call(d3.axisLeft(y).tickValues(p.yt).tickSize(4).tickPadding(4).tickFormat(fmt));
  ay.attr("font-family",FONT).select(".domain").remove(); ay.selectAll("line").attr("stroke","#777");
  ay.selectAll("text").attr("font-family",FONT).attr("font-size",20).attr("fill","#222");
  const xt=g.append("text").attr("x",p.xTitle).attr("y",442).attr("text-anchor","middle").attr("font-family",FONT).attr("font-size",20).attr("fill","#111");
  xt.append("tspan").text("log");
  xt.append("tspan").attr("dy",5).attr("font-size",13).text("2");
  xt.append("tspan").attr("dy",-5).text(" fold change");
  const yt=g.append("text").attr("transform",`translate(${p.yTitle[0]},${p.yTitle[1]}) rotate(-90)`).attr("text-anchor","middle").attr("font-family",FONT).attr("font-size",20).attr("fill","#111");
  yt.append("tspan").text("\u2212log");
  yt.append("tspan").attr("dy",5).attr("font-size",13).text("10");
  yt.append("tspan").attr("dy",-5).text(" ");
  yt.append("tspan").attr("font-style","italic").text("P");
  const lg=g.append("g");
  lg.append("text").attr("x",p.leg).attr("y",180).attr("font-family",FONT).attr("font-size",15).attr("fill","#222").text("Regulate");
  groups.forEach((k,i)=>{
    lg.append("circle").attr("cx",p.leg+8).attr("cy",197+i*17).attr("r",2.6).attr("fill",colors[k]).attr("fill-opacity",0.55);
    lg.append("text").attr("x",p.leg+18).attr("y",202+i*17).attr("font-family",FONT).attr("font-size",14).attr("fill","#222").text(k);
  });
  g.append("text").attr("x",p.letter[0]).attr("y",p.letter[1]).attr("text-anchor","middle").attr("font-family",FONT).attr("font-size",20).attr("fill","#111").text(p.name);
});
</script></body></html>
